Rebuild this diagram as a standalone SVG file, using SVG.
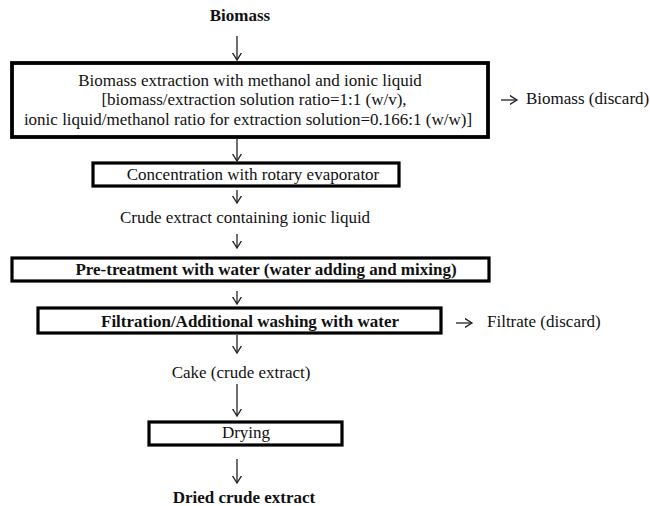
<svg xmlns="http://www.w3.org/2000/svg" width="650" height="506" viewBox="0 0 650 506">
<defs>
<marker id="ah" markerUnits="userSpaceOnUse" markerWidth="14" markerHeight="14" viewBox="-7 -9 14 14" refX="0" refY="0" orient="auto-start-reverse">
<path d="M-8,-5 L0,0 L-8,5" fill="none" stroke="#222" stroke-width="1.3"/>
</marker>
</defs>
<style>
.box{fill:#fff;stroke:#000;stroke-width:3.2}
.t{font-family:"Liberation Serif","Times New Roman",serif;font-size:17px;fill:#111;text-anchor:middle}
.b{font-weight:bold}
.l{text-anchor:start}
.c line{stroke:#222;stroke-width:1.3;marker-end:url(#ah)}
</style>
<rect width="650" height="506" fill="#fff"/>
<g id="biomass"><text class="t b" x="240" y="21">Biomass</text></g>
<g id="extraction">
<rect class="box" x="12" y="63" width="476" height="74" style="stroke-width:3.8"/>
<text class="t" x="250" y="86">Biomass extraction with methanol and ionic liquid</text>
<text class="t" x="254" y="105">[biomass/extraction solution ratio=1:1  (w/v),</text>
<text class="t" x="248" y="125">ionic liquid/methanol  ratio for extraction solution=0.166:1  (w/w)]</text>
</g>
<g id="discard1"><text class="t l" x="526" y="104">Biomass (discard)</text></g>
<g id="concentration">
<rect class="box" x="93" y="163" width="306" height="23"/>
<text class="t" x="253" y="180">Concentration with rotary evaporator</text>
</g>
<g id="crude"><text class="t" x="245" y="223">Crude extract containing ionic liquid</text></g>
<g id="pretreatment">
<rect class="box" x="12" y="258" width="477" height="23"/>
<text class="t b" x="266" y="275">Pre-treatment with water (water adding and mixing)</text>
</g>
<g id="filtration">
<rect class="box" x="38" y="308" width="403" height="25"/>
<text class="t b" x="250" y="327">Filtration/Additional washing with water</text>
</g>
<g id="discard2"><text class="t l" x="487" y="327">Filtrate (discard)</text></g>
<g id="cake"><text class="t" x="241" y="378">Cake (crude extract)</text></g>
<g id="drying">
<rect class="box" x="149" y="422" width="193" height="23"/>
<text class="t" x="246" y="438">Drying</text>
</g>
<g id="dried"><text class="t b" x="244" y="503">Dried crude extract</text></g>
<g id="connectors" class="c">
<line x1="237" y1="36" x2="237" y2="60"/>
<line x1="237" y1="139" x2="237" y2="161"/>
<line x1="237" y1="190" x2="237" y2="203"/>
<line x1="237" y1="234" x2="237" y2="248"/>
<line x1="237" y1="291" x2="237" y2="304"/>
<line x1="237" y1="335" x2="237" y2="353"/>
<line x1="237" y1="384" x2="237" y2="416"/>
<line x1="237" y1="459" x2="237" y2="483"/>
<line x1="501" y1="100" x2="517" y2="100"/>
<line x1="456" y1="323" x2="472" y2="323"/>
</g>
</svg>
